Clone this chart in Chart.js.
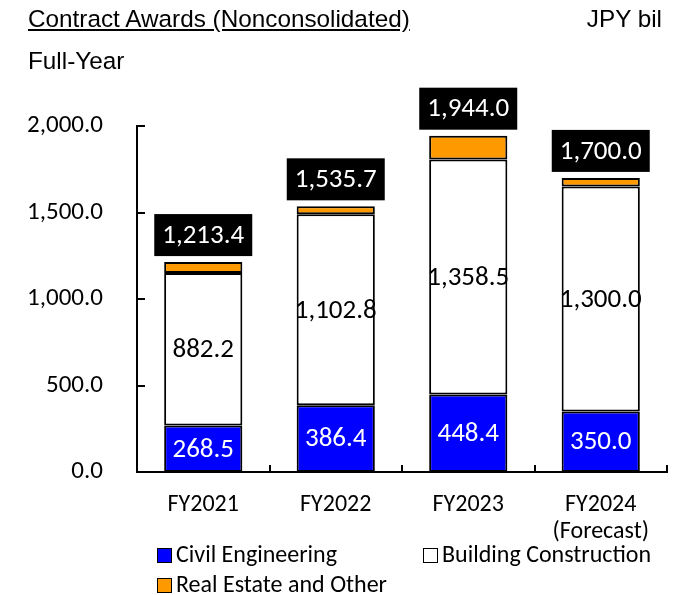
<!DOCTYPE html>
<html>
<head>
<meta charset="utf-8">
<script src="https://cdn.jsdelivr.net/npm/chart.js@4.4.0/dist/chart.umd.min.js"></script>
<style>
  body { margin: 0; background: #fff; }
  #wrap { position: relative; width: 686px; height: 595px; }
  .head { position: absolute; font-family: "Liberation Sans", Arial, sans-serif; font-size: 24.3px; line-height: 24px; color: #000; white-space: nowrap; }
  .legend { position: absolute; font-family: Calibri, Carlito, Lato, sans-serif; font-size: 24px; line-height: 24px; white-space: nowrap; }
  .legend span.box { display: inline-block; width: 13px; height: 13px; border: 1.5px solid #000; vertical-align: -1px; margin-right: 4px; }
</style>
</head>
<body>
<div id="wrap">
  <canvas id="awardsChart"></canvas>
  <div class="head" style="left:28px; top:7px; text-decoration: underline;">Contract Awards (Nonconsolidated)</div>
  <div class="head" style="right:24px; top:7px;">JPY bil</div>
  <div class="head" style="left:28px; top:49px;">Full-Year</div>
  <div class="legend" style="left:157px; top:542px;"><span class="box" style="background:#0000FF"></span>Civil Engineering</div>
  <div class="legend" style="left:423px; top:542px;"><span class="box" style="background:#FFFFFF"></span>Building Construction</div>
  <div class="legend" style="left:157px; top:572px;"><span class="box" style="background:#FF9900"></span>Real Estate and Other</div>
</div>
<script>
// values (JPY bil)
const years = ['FY2021', 'FY2022', 'FY2023', ['FY2024', '(Forecast)']];
const civilEngineering = [268.5, 386.4, 448.4, 350.0];
const buildingConstruction = [882.2, 1102.8, 1358.5, 1300.0];
const realEstateOther = [62.7, 46.5, 137.1, 50.0];
const totals = [1213.4, 1535.7, 1944.0, 1700.0];
const yTicks = [0, 500, 1000, 1500, 2000];

const labelFont = 'Calibri, Carlito, Lato, sans-serif';
const fmt = (v) => v.toLocaleString('en-US', { minimumFractionDigits: 1, maximumFractionDigits: 1 });

// segment values, totals in black boxes, inward tick marks
const labelPlugin = {
  id: 'barLabels',
  afterDatasetsDraw(chart) {
    const { ctx } = chart;
    const yScale = chart.scales.y;
    ctx.save();
    ctx.textAlign = 'center';
    ctx.textBaseline = 'middle';
    ctx.font = '27px ' + labelFont;
    [0, 1].forEach(di => {
      const meta = chart.getDatasetMeta(di);
      meta.data.forEach((bar, i) => {
        const { x, y, base } = bar.getProps(['x', 'y', 'base'], true);
        ctx.fillStyle = di === 0 ? '#fff' : '#000';
        ctx.fillText(fmt(chart.data.datasets[di].data[i]), x, (y + base) / 2 + 1);
      });
    });
    const meta = chart.getDatasetMeta(0);
    meta.data.forEach((bar, i) => {
      const top = yScale.getPixelForValue(totals[i]);
      const w = 98, h = 42;
      ctx.fillStyle = '#000';
      ctx.fillRect(bar.x - w / 2, top - 6 - h, w, h);
      ctx.fillStyle = '#fff';
      ctx.fillText(fmt(totals[i]), bar.x, top - 6 - h / 2 + 1);
    });
    ctx.restore();
  },
  afterDraw(chart) {
    const { ctx } = chart;
    const { x: xScale, y: yScale } = chart.scales;
    ctx.save();
    ctx.strokeStyle = '#000';
    ctx.lineWidth = 2;
    ctx.beginPath();
    yTicks.forEach(v => {
      const py = Math.round(yScale.getPixelForValue(v));
      ctx.moveTo(xScale.left, py);
      ctx.lineTo(xScale.left + 8, py);
    });
    for (let i = 0; i < years.length; i++) {
      const px = i < years.length - 1
        ? (xScale.getPixelForValue(i) + xScale.getPixelForValue(i + 1)) / 2
        : xScale.right;
      ctx.moveTo(Math.round(px), yScale.bottom);
      ctx.lineTo(Math.round(px), yScale.bottom - 7);
    }
    ctx.stroke();
    ctx.restore();
  }
};

const common = { borderColor: '#000', borderWidth: 2, borderSkipped: false, barPercentage: 0.59, categoryPercentage: 1 };

new Chart(document.getElementById('awardsChart'), {
  type: 'bar',
  data: {
    labels: years,
    datasets: [
      { label: 'Civil Engineering', data: civilEngineering, backgroundColor: '#0000FF', ...common },
      { label: 'Building Construction', data: buildingConstruction, backgroundColor: '#FFFFFF', ...common },
      { label: 'Real Estate and Other', data: realEstateOther, backgroundColor: '#FF9900', ...common }
    ]
  },
  options: {
    responsive: true,
    maintainAspectRatio: false,
    animation: false,
    layout: { padding: { top: 126, right: 19, left: 0, bottom: 0 } },
    plugins: { legend: { display: false }, tooltip: { enabled: false } },
    scales: {
      x: {
        stacked: true,
        grid: { display: false, drawTicks: false },
        border: { color: '#000', width: 2 },
        ticks: { color: '#000', padding: 20, font: { family: labelFont, size: 24, lineHeight: 1.1 } },
        afterFit: (scale) => { scale.height = 123; }
      },
      y: {
        stacked: true,
        min: 0,
        max: 2000,
        grid: { display: false, drawTicks: false },
        border: { color: '#000', width: 2 },
        afterBuildTicks: (scale) => { scale.ticks = yTicks.map(v => ({ value: v })); },
        ticks: { color: '#000', padding: 34, font: { family: labelFont, size: 25 }, callback: (v) => fmt(v) },
        afterFit: (scale) => { scale.width = 137; }
      }
    }
  },
  plugins: [labelPlugin]
});
</script>
</body>
</html>
